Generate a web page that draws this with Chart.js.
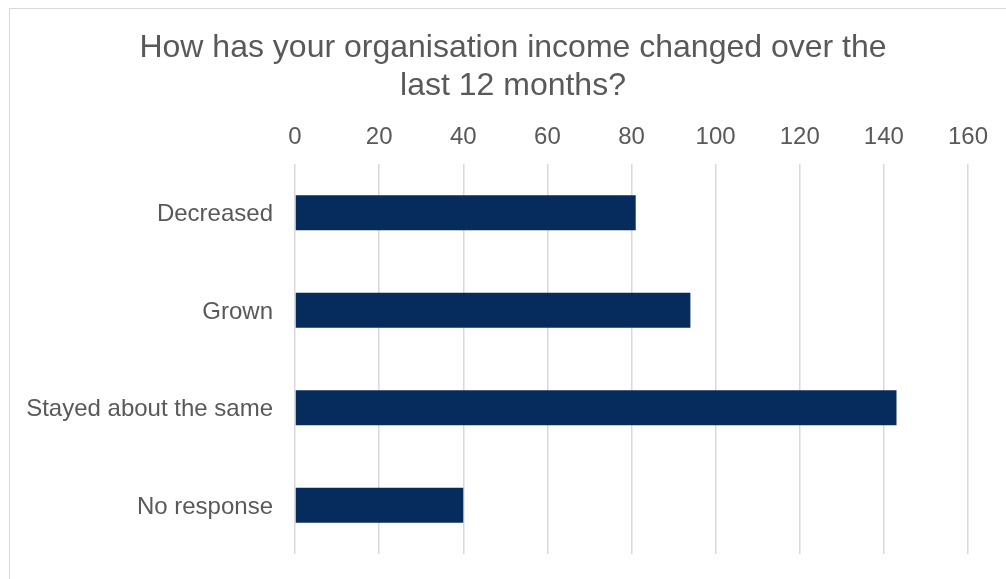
<!DOCTYPE html>
<html>
<head>
<meta charset="utf-8">
<script src="https://cdn.jsdelivr.net/npm/chart.js@4"></script>
<style>
    html, body { margin: 0; padding: 0; background: #ffffff; overflow: hidden; }
    #frame {
        position: absolute; left: 9px; top: 8px;
        width: 1010px; height: 580px;
        border: 1px solid #d9d9d9;
    }
    #income_chart { position: absolute; left: 0; top: 0; }
</style>
</head>
<body>
<div id="frame"></div>
<canvas id="income_chart" width="1006" height="579"></canvas>
<script>
// survey answers and counts
var answers = ["Decreased", "Grown", "Stayed about the same", "No response"];
var counts = [81, 94, 143, 40];
var titleLines = ["How has your organisation income changed over the", "last 12 months?"];

var textColor = "#595959";
var fontFamily = "Arial, 'Liberation Sans', sans-serif";

// title is centred over the whole frame, not the canvas box
var frameTitle = {
    id: "frameTitle",
    afterDraw: function(chart) {
        var ctx = chart.ctx;
        ctx.save();
        ctx.fillStyle = textColor;
        ctx.font = "32px " + fontFamily;
        ctx.textAlign = "center";
        ctx.textBaseline = "middle";
        for (var i = 0; i < titleLines.length; i++) {
            ctx.fillText(titleLines[i], 513, 48 + i * 38);
        }
        ctx.restore();
    },
};

var canvas = document.getElementById("income_chart");

var income_chart = new Chart(canvas, {
    type: "bar",
    data: {
        labels: answers,
        datasets: [{
            label: "Responses",
            backgroundColor: "#052c5c",
            borderWidth: 0,
            data: counts,
            barPercentage: 1,
            categoryPercentage: 0.36,
        }],
    },
    plugins: [frameTitle],
    options: {
        indexAxis: "y",
        responsive: false,
        animation: false,
        layout: { padding: { left: 0, right: 38, top: 105, bottom: 25 } },
        plugins: {
            legend: { display: false },
            tooltip: { enabled: false },
            title: { display: false },
        },
        scales: {
            x: {
                position: "top",
                min: 0,
                max: 160,
                ticks: {
                    stepSize: 20,
                    color: textColor,
                    font: { family: fontFamily, size: 24 },
                    padding: 12,
                },
                grid: { color: "#d9d9d9", lineWidth: 1.5, drawTicks: false },
                border: { display: false },
                afterFit: function(scale) { scale.height = 164 - 105; },
            },
            y: {
                ticks: {
                    color: textColor,
                    font: { family: fontFamily, size: 24 },
                    padding: 22,
                    labelOffset: 2,
                },
                grid: { display: false, drawTicks: false },
                border: { display: false },
                afterFit: function(scale) {
                    scale.width = 295;
                    scale.paddingTop = 0;
                    scale.paddingBottom = 0;
                },
            },
        },
    },
});
</script>
</body>
</html>
